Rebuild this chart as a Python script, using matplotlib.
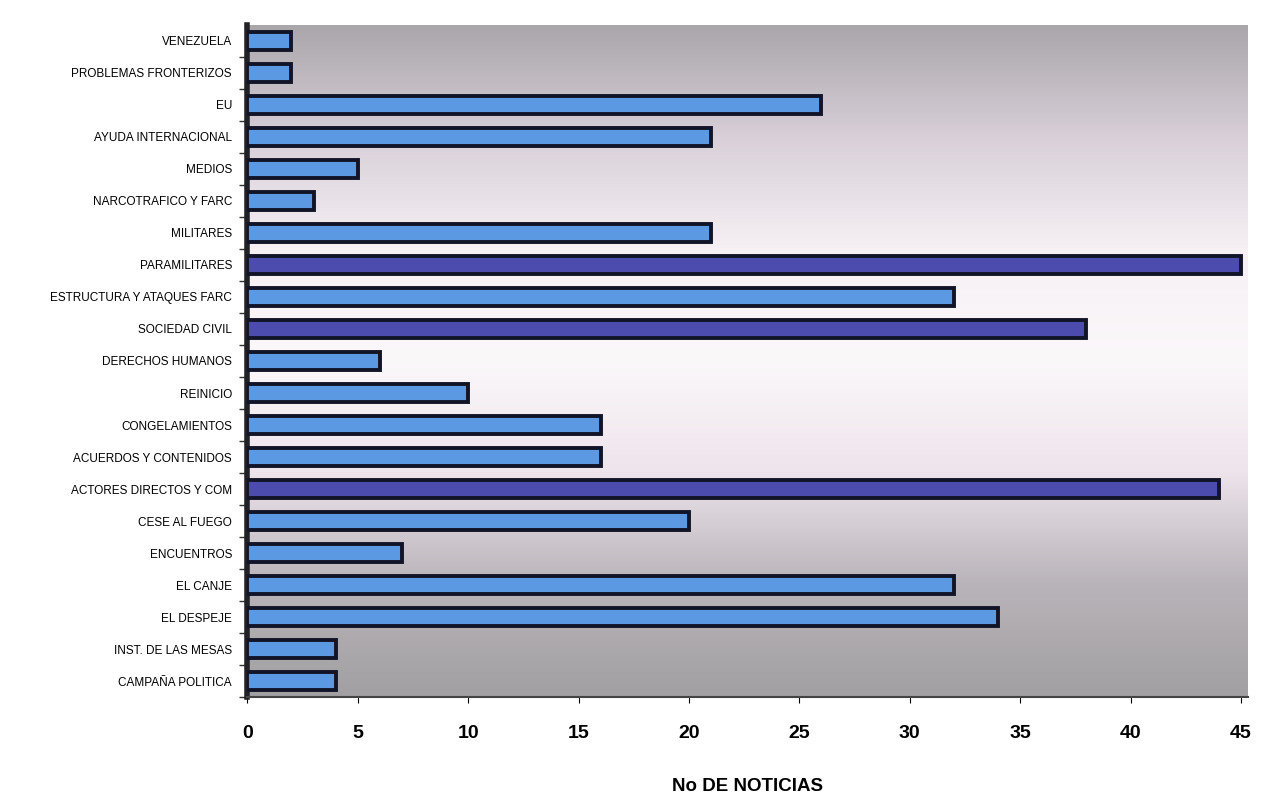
import numpy as np
import matplotlib.pyplot as plt
from matplotlib.colors import LinearSegmentedColormap

# categories from top to bottom as they appear in the chart
temas = ["VENEZUELA", "PROBLEMAS FRONTERIZOS", "EU", "AYUDA INTERNACIONAL",
         "MEDIOS", "NARCOTRAFICO Y FARC", "MILITARES", "PARAMILITARES",
         "ESTRUCTURA Y ATAQUES FARC", "SOCIEDAD CIVIL", "DERECHOS HUMANOS",
         "REINICIO", "CONGELAMIENTOS", "ACUERDOS Y CONTENIDOS",
         "ACTORES DIRECTOS Y COM", "CESE AL FUEGO", "ENCUENTROS",
         "EL CANJE", "EL DESPEJE", "INST. DE LAS MESAS", "CAMPAÑA POLITICA"]
noticias = [2, 2, 26, 21, 5, 3, 21, 45, 32, 38, 6, 10, 16, 16, 44, 20, 7,
            32, 34, 4, 4]
x_ticks = [0, 5, 10, 15, 20, 25, 30, 35, 40, 45]

fig = plt.figure(figsize=(12.68, 7.96), dpi=100)
ax = fig.add_axes([0.195, 0.124, 0.789, 0.845])

n = len(temas)
ypos = np.arange(n)[::-1]

# scanned look: grey at top and bottom, whitish pink in the middle
bg = LinearSegmentedColormap.from_list(
    "bg", ["#a9a6aa", "#d8cfd8", "#f6f0f4", "#fbf8fa", "#eee4ec", "#b9b4b9", "#a2a0a2"])
grad = np.linspace(0, 1, 256).reshape(-1, 1)
ax.imshow(grad, aspect="auto", cmap=bg, extent=[0, 45.3, -0.45, n - 0.5],
          origin="upper", zorder=0)

colores = ["#4b4cae" if v >= 38 else "#5b9ae3" for v in noticias]
ax.barh(ypos, noticias, height=0.56, color=colores, edgecolor="#121428",
        linewidth=2.8, zorder=3)

ax.set_xlim(0, 45.3)
ax.set_ylim(-0.45, n - 0.5)

ax.set_yticks(ypos)
ax.set_yticklabels(temas, fontsize=8.5, family="Liberation Sans")
ax.set_yticks(np.arange(n) - 0.5, minor=True)
ax.tick_params(axis="y", which="major", length=0, pad=11)
ax.tick_params(axis="y", which="minor", length=6, width=1, color="#333333")

ax.set_xticks(x_ticks)
ax.set_xticklabels([str(t) for t in x_ticks], fontsize=14, fontweight="bold",
                   family="Liberation Sans")
ax.tick_params(axis="x", length=4, pad=16)

ax.set_xlabel("No DE NOTICIAS", fontsize=13.5, fontweight="bold",
              family="Liberation Sans", labelpad=26)

for s in ["top", "right"]:
    ax.spines[s].set_visible(False)
ax.spines["left"].set_linewidth(4)
ax.spines["left"].set_color("#222226")
ax.spines["bottom"].set_linewidth(1.5)
ax.spines["bottom"].set_color("#444444")

fig.savefig("out.png", dpi=100)
